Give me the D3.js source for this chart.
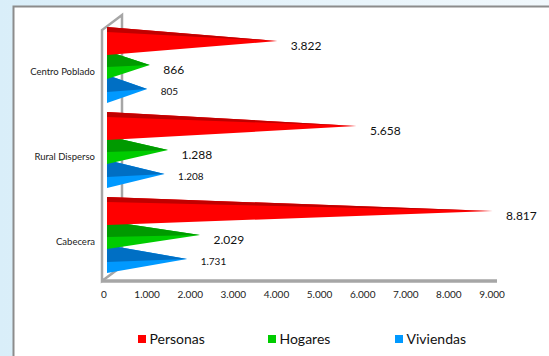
<!DOCTYPE html>
<html>
<head>
<meta charset="utf-8">
<script src="https://cdn.jsdelivr.net/npm/d3@7"></script>
<style>
  html, body { margin: 0; padding: 0; overflow: hidden; }
  svg { display: block; font-family: Lato, "Open Sans", sans-serif; }
</style>
</head>
<body>
<svg id="chart" width="549" height="356"></svg>
<script>
// ---- data ----
const categories = ["Centro Poblado", "Rural Disperso", "Cabecera"];
const seriesNames = ["Personas", "Hogares", "Viviendas"];
const personas = [3822, 5658, 8817];
const hogares = [866, 1288, 2029];
const viviendas = [805, 1208, 1731];
const xTickValues = [0, 1000, 2000, 3000, 4000, 5000, 6000, 7000, 8000, 9000];

// ---- style ----
const colors = ["#ff0000", "#00cc00", "#0099ff"];
const darkColors = ["#c00000", "#009a00", "#006fc4"];
const darkH = [5, 8, 9];
const labelSize = [12, 12, 10];
const labelDy = [5, 5, 2.5];

const values = [personas, hogares, viviendas];
const loc = d3.formatLocale({ decimal: ",", thousands: ".", grouping: [3], currency: ["$", ""] });
const fmt = loc.format(",d");

const svg = d3.select("#chart");

// background
const defs = svg.append("defs");
const grad = defs.append("linearGradient").attr("id", "bg").attr("x1", "0").attr("x2", "1").attr("y1", "0").attr("y2", "0");
grad.append("stop").attr("offset", "0").attr("stop-color", "#d9eef9");
grad.append("stop").attr("offset", "1").attr("stop-color", "#f1f8fc");
svg.append("rect").attr("width", 549).attr("height", 356).attr("fill", "url(#bg)");
svg.append("rect").attr("x", 13.5).attr("y", 6.5).attr("width", 600).attr("height", 400)
  .attr("fill", "#ffffff").attr("stroke", "#8c8c8c").attr("stroke-width", 2);

// scales
const x = d3.scaleLinear().domain([0, 9000]).range([104, 492]);
const y = d3.scaleBand().domain(categories).range([22.5, 277.5]).paddingInner(0.153).paddingOuter(0.0765);
const ys = d3.scaleBand().domain(seriesNames).range([0, y.bandwidth()]);

// 3D frame
const frontX = x(0) - 2, depthX = 20, depthY = 15;
const floorY = 281, topY = 30;
const frame = svg.append("g").attr("fill", "none").attr("stroke", "#a6a6a6");
frame.append("path").attr("stroke-width", 2.5)
  .attr("d", `M${frontX},${floorY} L${frontX},${topY} L${frontX + depthX},${topY - depthY} L${frontX + depthX},${floorY - depthY} Z`);
frame.append("line").attr("stroke-width", 3.5)
  .attr("x1", frontX).attr("x2", x(9000) + 5).attr("y1", floorY).attr("y2", floorY);

// x axis tick labels
svg.append("g").selectAll("text").data(xTickValues).join("text")
  .attr("x", d => x(d)).attr("y", 294).attr("dy", "0.35em")
  .attr("text-anchor", "middle").attr("font-size", 10).attr("fill", "#222")
  .text(d => fmt(d));

// category labels
svg.append("g").selectAll("text").data(categories).join("text")
  .attr("x", 95).attr("y", d => y(d) + y.bandwidth() / 2 + 7).attr("dy", "0.35em")
  .attr("text-anchor", "end").attr("font-size", 9.5).attr("fill", "#222")
  .text(d => d);

// cones
const baseX = x(0) + 3, tipShift = 8.5, halfH = 14;
const conesG = svg.append("g");
categories.forEach((cat, ci) => {
  [2, 1, 0].forEach(si => {
    const v = values[si][ci];
    const cy = y(cat) + ys(seriesNames[si]) + ys.bandwidth() / 2;
    const tx = x(v) + tipShift;
    const top = cy - halfH, bot = cy + halfH;
    conesG.append("path").attr("fill", colors[si])
      .attr("d", `M${baseX},${top} L${tx},${cy} L${baseX},${bot} Z`);
    conesG.append("path").attr("fill", darkColors[si])
      .attr("d", `M${baseX},${top} L${tx},${cy} L${baseX},${top + (si === 0 ? 0 : 8) + darkH[si]} Z`);
  });
});

// value labels
categories.forEach((cat, ci) => {
  seriesNames.forEach((s, si) => {
    const v = values[si][ci];
    const cy = y(cat) + ys(s) + ys.bandwidth() / 2;
    svg.append("text")
      .attr("x", x(v) + tipShift + 13.5).attr("y", cy + labelDy[si]).attr("dy", "0.35em")
      .attr("font-size", labelSize[si]).attr("fill", "#111")
      .text(fmt(v));
  });
});

// legend
const legendX = [138, 268, 395];
const lg = svg.append("g");
seriesNames.forEach((s, si) => {
  lg.append("rect").attr("x", legendX[si]).attr("y", 335).attr("width", 8).attr("height", 8).attr("fill", colors[si]);
  lg.append("text").attr("x", legendX[si] + 11.5).attr("y", 339).attr("dy", "0.35em")
    .attr("font-size", 14).attr("fill", "#111").text(s);
});
</script>
</body>
</html>
